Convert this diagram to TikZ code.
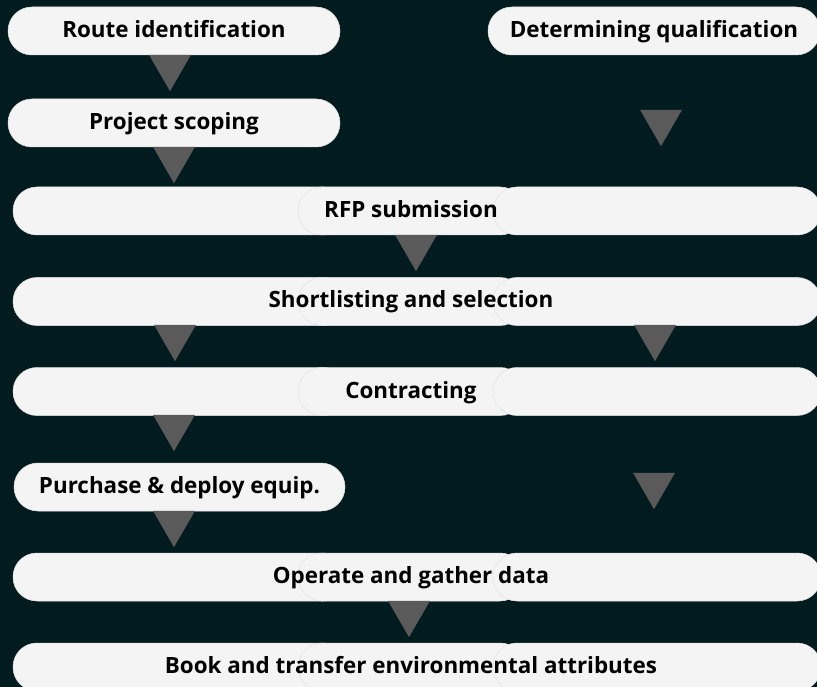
\documentclass[tikz,border=0pt]{standalone}
\usepackage{fontspec}
\setmainfont{Open Sans}
\usepackage{tikz}
\usetikzlibrary{positioning, shapes.geometric}
\definecolor{nightbg}{HTML}{021B1F}
\definecolor{pillgray}{HTML}{F4F4F4}
\definecolor{edgegray}{HTML}{E2E2E2}
\definecolor{tridark}{HTML}{5A5A5A}
\tikzstyle{pill} = [rectangle, rounded corners=23.9pt, fill=pillgray, draw=edgegray, line width=0.5pt, minimum height=48pt, inner sep=0pt, text height=16pt, text depth=3pt, font=\fontsize{22.4}{24}\selectfont\bfseries]
\tikzstyle{steptext} = [font=\fontsize{22.4}{24}\selectfont\bfseries, inner sep=0pt, text height=16pt, text depth=3pt]
\tikzstyle{downtri} = [regular polygon, regular polygon sides=3, shape border rotate=180, fill=tridark, inner sep=0pt, minimum size=48.4pt]

\begin{document}
\begin{tikzpicture}[x=1pt, y=-1pt]
    \fill[nightbg] (0,0) rectangle (817,687);
    \useasboundingbox (0,0) rectangle (817,687);

    % short steps
    \node[pill, minimum width=332pt] (route) at (174,31) {Route identification};
    \node[pill, minimum width=332pt] (qualify) at (654,31) {Determining qualification};
    \node[pill, minimum width=332pt] (scoping) at (174,123) {Project scoping};
    \node[pill, minimum width=331pt] (purchase) at (179.5,487) {Purchase \& deploy equip.};

    % wide steps, three overlapping pills each
    \foreach \y/\name/\txt in {211/rfp/RFP submission,
                                301.5/shortlist/Shortlisting and selection,
                                391.5/contract/Contracting,
                                577/operate/Operate and gather data,
                                667/book/Book and transfer environmental attributes}{
        \node[pill, minimum width=334pt] (\name-l) at (180,\y) {};
        \node[pill, minimum width=226pt] (\name-m) at (411,\y) {};
        \node[pill, minimum width=328pt] (\name-r) at (657,\y) {};
        \node[steptext] (\name) at (\name-m.center) {\txt};
    }

    % arrows
    \node[downtri] (t1) at (170,67) {};
    \node[downtri] (t2) at (174,159) {};
    \node[downtri] (t3) at (661,122) {};
    \node[downtri] (t4) at (416,247) {};
    \node[downtri] (t5) at (175,337) {};
    \node[downtri] (t6) at (655,337) {};
    \node[downtri] (t7) at (174,427) {};
    \node[downtri] (t8) at (654,485) {};
    \node[downtri] (t9) at (174,523) {};
    \node[downtri] (t10) at (409,613) {};
\end{tikzpicture}
\end{document}
